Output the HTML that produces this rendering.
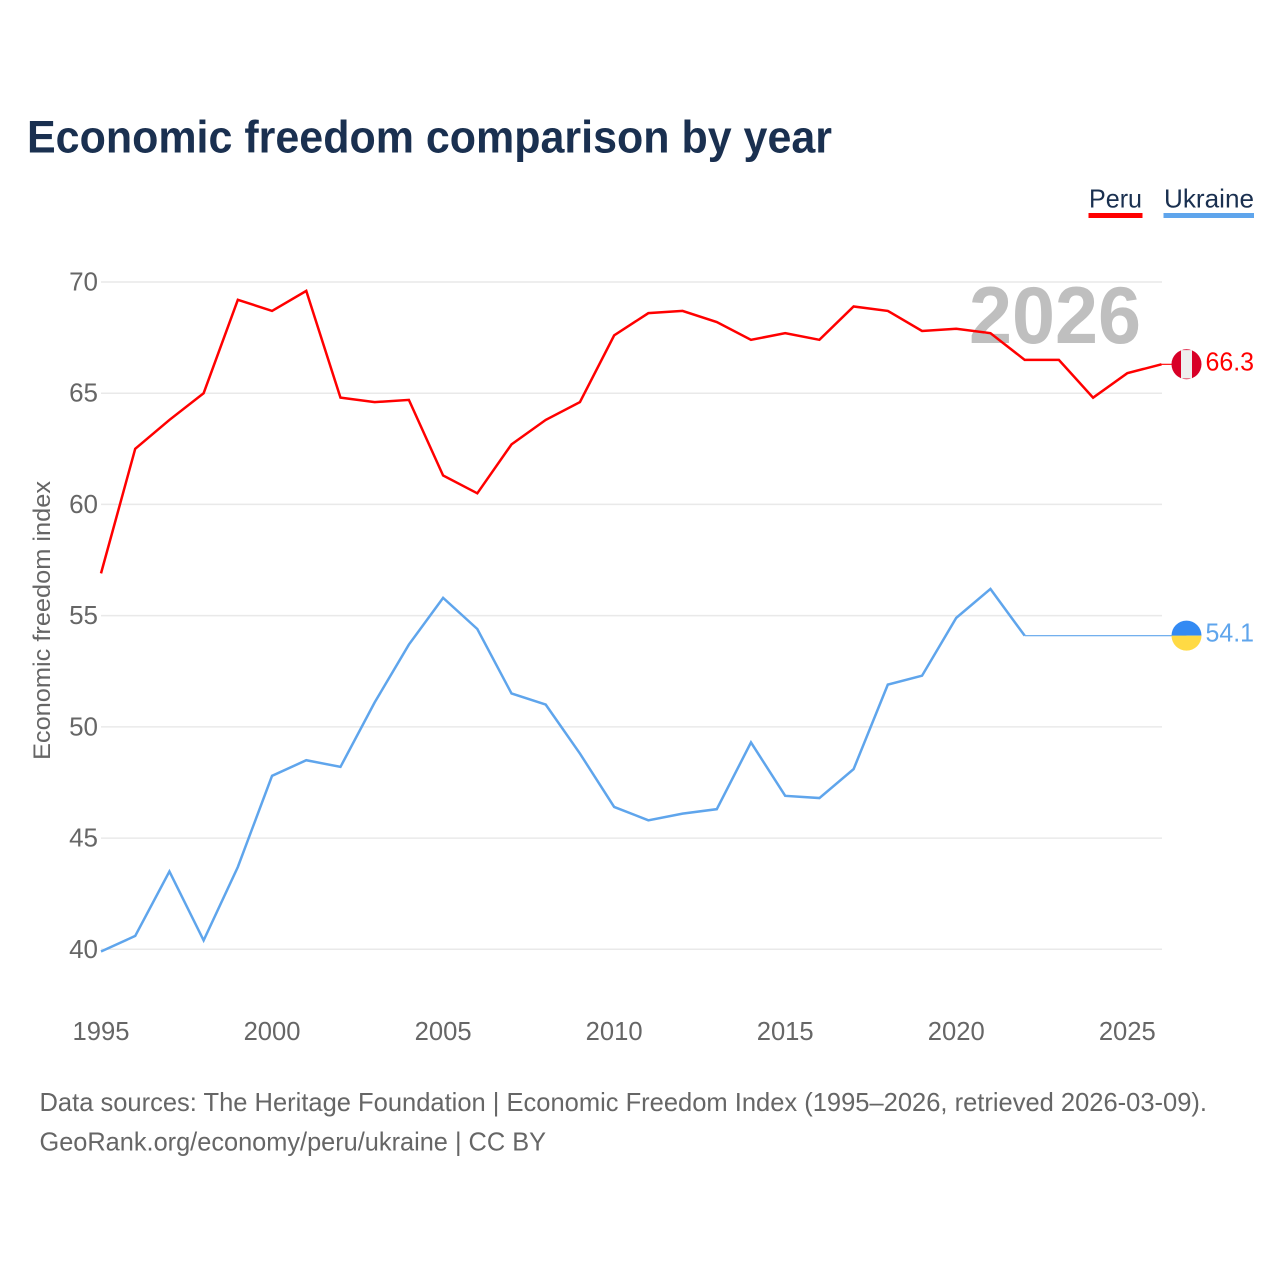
<!DOCTYPE html>
<html lang="en">
<head>
<meta charset="utf-8">
<title>Economic freedom comparison by year</title>
<style>
html,body{margin:0;padding:0;background:#fff;width:1280px;height:1280px;overflow:hidden}
svg{display:block}
text{font-family:"Liberation Sans",sans-serif}
</style>
</head>
<body>
<svg id="chart" xmlns="http://www.w3.org/2000/svg" width="1280" height="1280" viewBox="0 0 1280 1280">
  <text x="27" y="152.5" font-size="45" font-weight="700" fill="#1a3050" textLength="805" lengthAdjust="spacingAndGlyphs">Economic freedom comparison by year</text>

  <g>
    <g>
      <text x="1089" y="207.5" font-size="26" fill="#1a3050" textLength="53" lengthAdjust="spacingAndGlyphs">Peru</text>
      <rect x="1088.5" y="213" width="54" height="5" fill="#ff0000"/>
    </g>
    <g>
      <text x="1164" y="207.5" font-size="26" fill="#1a3050" textLength="90" lengthAdjust="spacingAndGlyphs">Ukraine</text>
      <rect x="1163.5" y="213" width="90.5" height="5" fill="#5fa5ec"/>
    </g>
  </g>

  <g id="grid"></g>
  <text x="969" y="343" font-size="81" font-weight="700" fill="#bfbfbf" textLength="172" lengthAdjust="spacingAndGlyphs">2026</text>
  <g id="yticks"></g>
  <g id="xticks"></g>
  <text transform="translate(50,620.5) rotate(-90)" text-anchor="middle" font-size="24" fill="#666666" textLength="279" lengthAdjust="spacingAndGlyphs">Economic freedom index</text>
  <g id="series"></g>
  <g id="ends"></g>

  <text x="39.5" y="1111" font-size="26" fill="#666666" textLength="1167.5" lengthAdjust="spacingAndGlyphs">Data sources: The Heritage Foundation | Economic Freedom Index (1995–2026, retrieved 2026-03-09).</text>
  <text x="39.5" y="1150.5" font-size="26" fill="#666666" textLength="506.5" lengthAdjust="spacingAndGlyphs">GeoRank.org/economy/peru/ukraine | CC BY</text>
</svg>
<script>
const years = [1995,1996,1997,1998,1999,2000,2001,2002,2003,2004,2005,2006,2007,2008,2009,2010,2011,2012,2013,2014,2015,2016,2017,2018,2019,2020,2021,2022,2023,2024,2025,2026];
const peruValues = [56.9,62.5,63.8,65,69.2,68.7,69.6,64.8,64.6,64.7,61.3,60.5,62.7,63.8,64.6,67.6,68.6,68.7,68.2,67.4,67.7,67.4,68.9,68.7,67.8,67.9,67.7,66.5,66.5,64.8,65.9,66.3];
const ukraineValues = [39.9,40.6,43.5,40.4,43.7,47.8,48.5,48.2,51.1,53.7,55.8,54.4,51.5,51,48.8,46.4,45.8,46.1,46.3,49.3,46.9,46.8,48.1,51.9,52.3,54.9,56.2,54.1,54.1,54.1,54.1,54.1];
const ukraineLastObservedYear = 2022;
const yTickValues = [40,45,50,55,60,65,70];
const xTickValues = [1995,2000,2005,2010,2015,2020,2025];

const NS = 'http://www.w3.org/2000/svg';
const xScale = year => 101 + (year - 1995) * (1161.5 - 101) / (2026 - 1995);
const yScale = value => 949.3 - (value - 40) * (949.3 - 282) / (70 - 40);
const svgEl = (tag, attrs, parent, text) => {
  const el = document.createElementNS(NS, tag);
  for (const k in attrs) el.setAttribute(k, attrs[k]);
  if (text !== undefined) el.textContent = text;
  parent.appendChild(el);
  return el;
};
const gridG = document.getElementById('grid');
const yG = document.getElementById('yticks');
const xG = document.getElementById('xticks');
const seriesG = document.getElementById('series');
const endsG = document.getElementById('ends');

yTickValues.forEach(v => {
  const line = svgEl('line', {x1: 101, x2: 1162, y1: yScale(v), y2: yScale(v), stroke: '#e9e9e9', 'stroke-width': 1.5}, gridG);
  
  
  const label = svgEl('text', {x: 98, y: yScale(v) + 8.5, 'text-anchor': 'end', 'font-size': 26, fill: '#666666'}, yG, String(v));
  
  
});
xTickValues.forEach(v => {
  const label = svgEl('text', {x: xScale(v), y: 1040, 'text-anchor': 'middle', 'font-size': 25.6, fill: '#666666'}, xG, String(v));
  
  
});

const pts = (ys, vals) => ys.map((y, i) => xScale(y).toFixed(2) + ',' + yScale(vals[i]).toFixed(2)).join(' ');

const peruLine = svgEl('polyline', {points: pts(years, peruValues), fill: 'none', stroke: '#ff0000', 'stroke-width': 2.5, 'stroke-linejoin': 'miter'}, seriesG);



const cut = years.indexOf(ukraineLastObservedYear);
const ukraineSolid = svgEl('polyline', {points: pts(years.slice(0, cut + 1), ukraineValues.slice(0, cut + 1)), fill: 'none', stroke: '#5fa5ec', 'stroke-width': 2.5}, seriesG);


const ukraineThin = svgEl('polyline', {points: pts(years.slice(cut), ukraineValues.slice(cut)), fill: 'none', stroke: '#5fa5ec', 'stroke-width': 1.2}, seriesG);



const lastPeru = peruValues[peruValues.length - 1];
const lastUkraine = ukraineValues[ukraineValues.length - 1];
const lastX = xScale(years[years.length - 1]);
const flagX = lastX + 25;

const peruConn = svgEl('line', {x1: lastX, x2: flagX, y1: yScale(lastPeru), y2: yScale(lastPeru), stroke: '#ff0000', 'stroke-width': 1.2}, endsG);


const ukConn = svgEl('line', {x1: lastX, x2: flagX, y1: yScale(lastUkraine), y2: yScale(lastUkraine), stroke: '#5fa5ec', 'stroke-width': 1.2}, endsG);



const peruFlag = svgEl('g', {transform: 'translate(' + flagX + ',' + yScale(lastPeru) + ')'}, endsG);


svgEl('circle', {r: 15, fill: '#d80027'}, peruFlag);
svgEl('rect', {x: -5.5, y: -14.2, width: 11, height: 28.4, fill: '#eeeeee'}, peruFlag);

const ukFlag = svgEl('g', {transform: 'translate(' + flagX + ',' + yScale(lastUkraine) + ')'}, endsG);


svgEl('path', {d: 'M-15 0A15 15 0 0 1 15 0Z', fill: '#338af3'}, ukFlag);
svgEl('path', {d: 'M-15 0A15 15 0 0 0 15 0Z', fill: '#ffda44'}, ukFlag);

const peruVal = svgEl('text', {x: 1205.5, y: yScale(lastPeru) + 6, 'font-size': 26, fill: '#ff0000', textLength: 48.5, lengthAdjust: 'spacingAndGlyphs'}, endsG, lastPeru.toFixed(1));


const ukVal = svgEl('text', {x: 1205.5, y: yScale(lastUkraine) + 6, 'font-size': 26, fill: '#5fa5ec', textLength: 48.5, lengthAdjust: 'spacingAndGlyphs'}, endsG, lastUkraine.toFixed(1));


</script>
</body>
</html>
